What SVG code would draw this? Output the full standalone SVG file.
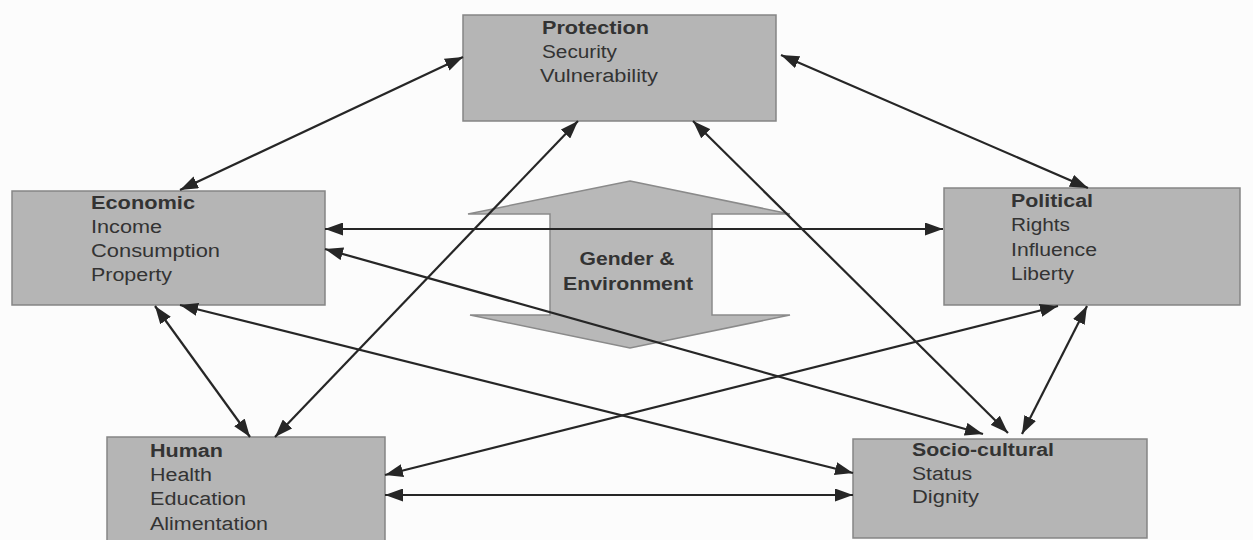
<svg xmlns="http://www.w3.org/2000/svg" width="1253" height="540" viewBox="0 0 1253 540">
<defs>
<marker id="ah" viewBox="0 0 18 13" refX="18" refY="6.5" markerWidth="18" markerHeight="13" markerUnits="userSpaceOnUse" orient="auto-start-reverse">
<path d="M0,0 L18,6.5 L0,13 Z" fill="#262626"/>
</marker>
<style>
.box{fill:#b5b5b5;stroke:#858585;stroke-width:1.5}
.t{font-family:"Liberation Sans",Arial,sans-serif;font-size:18px;fill:#333333}
.b{font-weight:bold}
.c{stroke:#262626;stroke-width:2.2;fill:none;marker-start:url(#ah);marker-end:url(#ah)}
</style>
</defs>
<rect width="1253" height="540" fill="#fcfcfc"/>
<g id="gender-environment">
<polygon points="630,181 790,214 712,214 712,315 790,315 630,348 470,315 550,315 550,214 468,214" fill="#b8b8b8" stroke="#8a8a8a" stroke-width="1.5"/>
<text class="t b" x="627" y="265" text-anchor="middle" textLength="95" lengthAdjust="spacingAndGlyphs">Gender &amp;</text>
<text class="t b" x="628" y="290" text-anchor="middle" textLength="130" lengthAdjust="spacingAndGlyphs">Environment</text>
</g>
<g id="protection">
<rect class="box" x="463" y="15" width="313" height="106"/>
<text class="t b" x="542" y="34" textLength="107" lengthAdjust="spacingAndGlyphs">Protection</text>
<text class="t" x="542" y="58" textLength="75" lengthAdjust="spacingAndGlyphs">Security</text>
<text class="t" x="540" y="82" textLength="118" lengthAdjust="spacingAndGlyphs">Vulnerability</text>
</g>
<g id="economic">
<rect class="box" x="12" y="191" width="313" height="114"/>
<text class="t b" x="91" y="209" textLength="104" lengthAdjust="spacingAndGlyphs">Economic</text>
<text class="t" x="91" y="233" textLength="71" lengthAdjust="spacingAndGlyphs">Income</text>
<text class="t" x="91" y="257" textLength="129" lengthAdjust="spacingAndGlyphs">Consumption</text>
<text class="t" x="91" y="281" textLength="81" lengthAdjust="spacingAndGlyphs">Property</text>
</g>
<g id="political">
<rect class="box" x="944" y="188" width="296" height="117"/>
<text class="t b" x="1011" y="207" textLength="82" lengthAdjust="spacingAndGlyphs">Political</text>
<text class="t" x="1011" y="231" textLength="59" lengthAdjust="spacingAndGlyphs">Rights</text>
<text class="t" x="1011" y="256" textLength="86" lengthAdjust="spacingAndGlyphs">Influence</text>
<text class="t" x="1011" y="280" textLength="63" lengthAdjust="spacingAndGlyphs">Liberty</text>
</g>
<g id="human">
<rect class="box" x="107" y="437" width="278" height="110"/>
<text class="t b" x="150" y="457" textLength="73" lengthAdjust="spacingAndGlyphs">Human</text>
<text class="t" x="150" y="481" textLength="62" lengthAdjust="spacingAndGlyphs">Health</text>
<text class="t" x="150" y="505" textLength="96" lengthAdjust="spacingAndGlyphs">Education</text>
<text class="t" x="150" y="530" textLength="118" lengthAdjust="spacingAndGlyphs">Alimentation</text>
</g>
<g id="socio-cultural">
<rect class="box" x="853" y="439" width="294" height="99"/>
<text class="t b" x="912" y="456" textLength="142" lengthAdjust="spacingAndGlyphs">Socio-cultural</text>
<text class="t" x="912" y="480" textLength="60" lengthAdjust="spacingAndGlyphs">Status</text>
<text class="t" x="912" y="503" textLength="67" lengthAdjust="spacingAndGlyphs">Dignity</text>
</g>
<g id="connectors">
<line class="c" x1="463" y1="57" x2="180" y2="190"/>
<line class="c" x1="781" y1="55" x2="1088" y2="188"/>
<line class="c" x1="325" y1="229" x2="943" y2="229"/>
<line class="c" x1="325" y1="249" x2="983" y2="434"/>
<line class="c" x1="578" y1="121" x2="275" y2="437"/>
<line class="c" x1="693" y1="121" x2="1008" y2="433"/>
<line class="c" x1="155" y1="306" x2="250" y2="437"/>
<line class="c" x1="180" y1="305" x2="853" y2="473"/>
<line class="c" x1="1058" y1="306" x2="385" y2="475"/>
<line class="c" x1="1087" y1="306" x2="1022" y2="434"/>
<line class="c" x1="385" y1="495" x2="853" y2="495"/>
</g>
</svg>
